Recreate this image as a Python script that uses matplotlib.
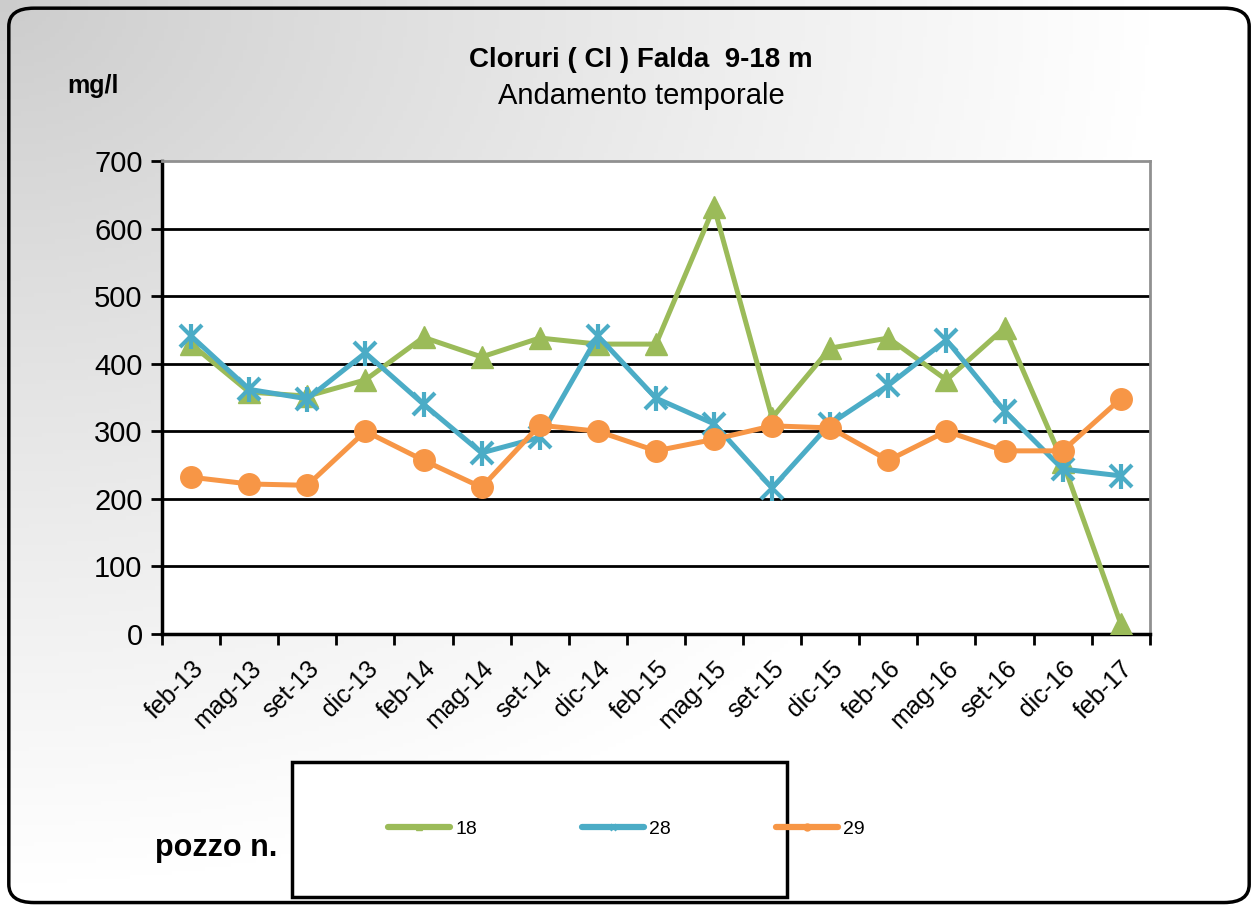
import numpy as np
import matplotlib
matplotlib.use('Agg')
import matplotlib.pyplot as plt
from matplotlib.patches import FancyBboxPatch, Rectangle

plt.rcParams['font.family'] = ['Liberation Sans', 'DejaVu Sans']

dates = ['feb-13', 'mag-13', 'set-13', 'dic-13', 'feb-14', 'mag-14', 'set-14', 'dic-14',
         'feb-15', 'mag-15', 'set-15', 'dic-15', 'feb-16', 'mag-16', 'set-16', 'dic-16', 'feb-17']
pozzo_18 = [429, 358, 352, 376, 439, 410, 438, 429, 429, 632, 320, 423, 438, 376, 453, 255, 15]
pozzo_28 = [441, 362, 348, 416, 340, 268, 291, 441, 349, 311, 216, 311, 368, 435, 330, 244, 234]
pozzo_29 = [232, 222, 220, 300, 257, 217, 309, 300, 271, 288, 308, 305, 257, 300, 271, 271, 348]

green = '#9BBB59'
blue = '#4BACC6'
orange = '#F79646'

W, H = 1258, 908
fig = plt.figure(figsize=(W / 100, H / 100), dpi=100)

# gradient background, grey at top-left fading to white
bg = fig.add_axes([0, 0, 1, 1], zorder=-10)
px, py = np.meshgrid(np.linspace(0, W, 300), np.linspace(0, H, 220))
d = np.sqrt(px ** 2 + (1.3 * py) ** 2) / 1150
g = 0.80 + 0.20 * np.clip(d, 0, 1) ** 0.9
bg.imshow(np.dstack([g, g, g]), extent=[0, 1, 0, 1], origin='upper', aspect='auto')
bg.set_xlim(0, 1)
bg.set_ylim(0, 1)
bg.axis('off')
bg.add_patch(FancyBboxPatch((0.007, 0.006), 0.986, 0.985,
                            boxstyle='round,pad=0,rounding_size=0.02',
                            fill=False, edgecolor='black', linewidth=2.5,
                            transform=bg.transAxes))

ax = fig.add_axes([0.1288, 0.3018, 0.7852, 0.5209])
x = np.arange(len(dates))
ax.plot(x, pozzo_18, color=green, lw=3.6, marker='^', ms=16, label='18', zorder=3)
ax.plot(x, pozzo_28, color=blue, lw=3.6, marker='x', ms=16, mew=3, label='28', zorder=4)
ax.plot(x, pozzo_28, color=blue, lw=0, marker='|', ms=18, mew=3, zorder=4)
ax.plot(x, pozzo_29, color=orange, lw=3.6, marker='o', ms=15.5, label='29', zorder=5)

ax.set_xlim(-0.5, len(dates) - 0.5)
ax.set_ylim(0, 700)
ax.set_yticks(range(0, 701, 100))
ax.set_facecolor('white')
for yv in range(100, 700, 100):
    ax.axhline(yv, color='black', lw=2, zorder=1)
ax.set_xticks(x)
ax.set_xticklabels(dates, rotation=45, ha='right', rotation_mode='anchor', fontsize=18)
ax.set_xticks(np.arange(-0.5, len(dates)), minor=True)
ax.tick_params(axis='x', which='major', length=0, pad=16)
ax.tick_params(axis='x', which='minor', length=8, width=2)
ax.tick_params(axis='y', labelsize=21, length=8, width=2, pad=6)
ax.spines['left'].set_linewidth(2.5)
ax.spines['bottom'].set_linewidth(2.5)
for s in ('right', 'top'):
    ax.spines[s].set_color('#909090')
    ax.spines[s].set_linewidth(2)

fig.text(0.5095, 1 - 60 / H, 'Cloruri ( Cl ) Falda  9-18 m', ha='center', va='center',
         fontsize=20, fontweight='bold')
fig.text(0.5095, 1 - 96 / H, 'Andamento temporale', ha='center', va='center', fontsize=21)
fig.text(67 / W, 1 - 86 / H, 'mg/l', ha='left', va='center', fontsize=18, fontweight='bold')
fig.text(155 / W, 1 - 848 / H, 'pozzo n.', ha='left', va='center', fontsize=22, fontweight='bold')

fig.patches.append(Rectangle((292 / W, 1 - 897 / H), 495 / W, 135 / H, transform=fig.transFigure,
                             facecolor='white', edgecolor='black', linewidth=2.5))
handles = [plt.Line2D([], [], color=green, lw=4.5, marker='^', ms=5, solid_capstyle='round'),
           plt.Line2D([], [], color=blue, lw=4.5, marker='x', ms=5, mew=2, solid_capstyle='round'),
           plt.Line2D([], [], color=orange, lw=4.5, marker='o', ms=5, solid_capstyle='round')]
fig.legend(handles, ['18', '28', '29'], ncol=3, loc='center left',
           bbox_to_anchor=(388 / W, 1 - 829 / H), borderpad=0, borderaxespad=0,
           frameon=False, fontsize=14, handlelength=3.2, handletextpad=0.25, columnspacing=5.4)

fig.savefig('out.png', dpi=100)
